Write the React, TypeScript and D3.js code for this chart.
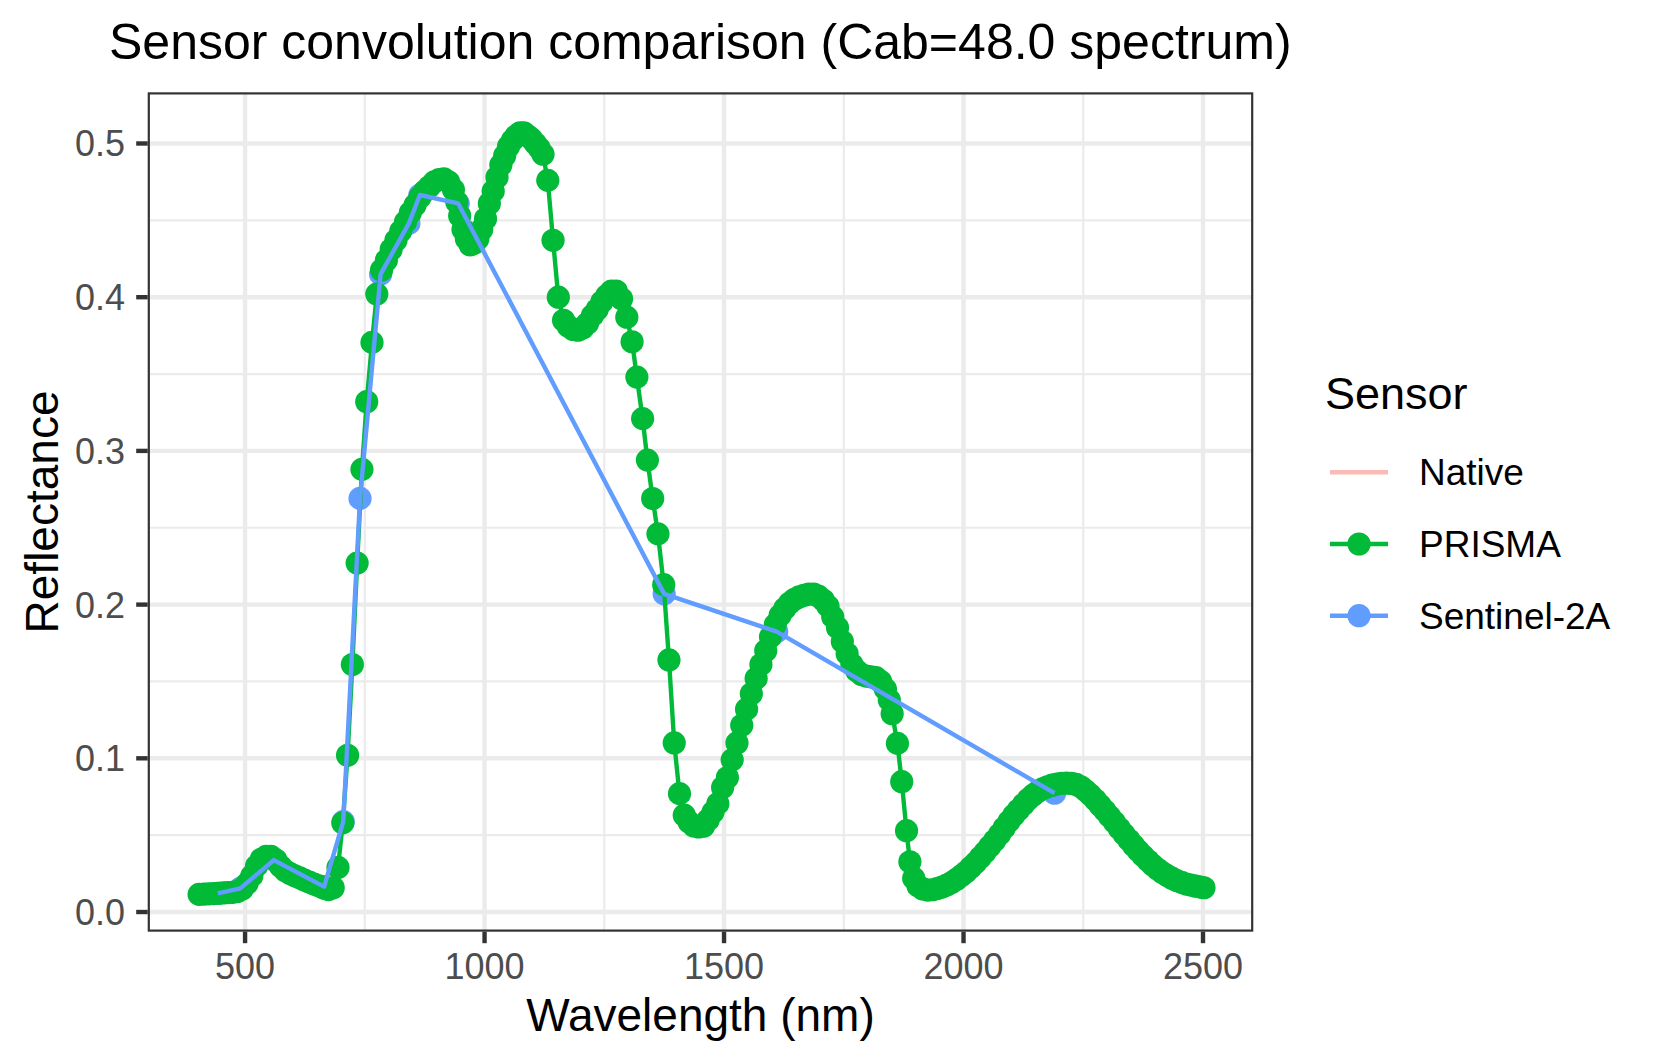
import { useEffect } from "react";
import * as d3 from "d3";

// PRISMA convolved spectrum (wavelength nm, reflectance)
const prismaWl = [
  404, 414, 424, 434, 444, 454, 464, 474, 484, 494, 504, 514, 524, 534, 544, 554, 564, 574, 584, 594,
  604, 614, 624, 634, 644, 654, 664, 674, 684, 694, 704, 714, 724, 734, 744, 754, 765, 775, 785, 795,
  805, 815, 825, 835, 845, 855, 865, 875, 885, 895, 905, 915, 925, 935, 942, 948, 955, 962, 970, 978,
  986, 994, 1002, 1010, 1018, 1026, 1034, 1042, 1050, 1058, 1066, 1074, 1082, 1090, 1098, 1106, 1114, 1122, 1132, 1143,
  1154, 1165, 1175, 1185, 1195, 1205, 1215, 1225, 1235, 1245, 1255, 1265, 1275, 1286, 1297, 1308, 1318, 1330, 1340, 1351,
  1362, 1374, 1385, 1396, 1407, 1417, 1427, 1437, 1447, 1457, 1467, 1477, 1487, 1497, 1507, 1517, 1527, 1537, 1547, 1557,
  1567, 1577, 1587, 1597, 1607, 1617, 1627, 1637, 1647, 1657, 1667, 1677, 1687, 1697, 1707, 1717, 1727, 1737, 1747, 1757,
  1767, 1777, 1787, 1797, 1807, 1817, 1827, 1837, 1845, 1851, 1862, 1871, 1881, 1888, 1896, 1905, 1915, 1925, 1935, 1945,
  1955, 1965, 1975, 1985, 1995, 2005, 2015, 2025, 2035, 2045, 2055, 2065, 2075, 2085, 2095, 2105, 2115, 2125, 2135, 2145,
  2155, 2165, 2175, 2185, 2195, 2205, 2215, 2225, 2235, 2245, 2255, 2265, 2275, 2285, 2295, 2305, 2315, 2325, 2335, 2345,
  2355, 2365, 2375, 2385, 2395, 2405, 2415, 2425, 2435, 2445, 2455, 2465, 2475, 2485, 2495, 2502,
];
const prismaRefl = [
  0.0115, 0.0117, 0.0118, 0.012, 0.0122, 0.0124, 0.0126, 0.0128, 0.0133, 0.015, 0.0185, 0.0235, 0.03, 0.0345, 0.0362, 0.0362, 0.034, 0.0298, 0.0268, 0.025,
  0.0236, 0.0222, 0.0208, 0.0195, 0.0182, 0.017, 0.0156, 0.0146, 0.0158, 0.029, 0.058, 0.102, 0.161, 0.227, 0.288, 0.332, 0.3706, 0.402, 0.4177, 0.424,
  0.431, 0.437, 0.443, 0.449, 0.455, 0.46, 0.465, 0.469, 0.472, 0.475, 0.4765, 0.477, 0.475, 0.47, 0.462, 0.453, 0.444, 0.438, 0.434, 0.435,
  0.438, 0.444, 0.451, 0.461, 0.469, 0.478, 0.486, 0.492, 0.498, 0.502, 0.505, 0.507, 0.507, 0.505, 0.503, 0.5, 0.497, 0.493, 0.476, 0.437,
  0.4, 0.385, 0.381, 0.379, 0.3785, 0.38, 0.383, 0.388, 0.392, 0.397, 0.401, 0.404, 0.404, 0.399, 0.387, 0.371, 0.348, 0.321, 0.294, 0.269,
  0.246, 0.213, 0.164, 0.11, 0.077, 0.063, 0.0585, 0.056, 0.0553, 0.0558, 0.06, 0.065, 0.0705, 0.081, 0.0875, 0.099, 0.11, 0.1215, 0.132, 0.142,
  0.152, 0.161, 0.17, 0.179, 0.187, 0.193, 0.1975, 0.201, 0.2035, 0.205, 0.206, 0.2068, 0.2069, 0.2055, 0.203, 0.199, 0.192, 0.185, 0.176, 0.168,
  0.161, 0.157, 0.1545, 0.1535, 0.153, 0.1525, 0.15, 0.145, 0.138, 0.129, 0.1097, 0.0848, 0.0529, 0.0327, 0.022, 0.017, 0.015, 0.0143, 0.0145, 0.0152,
  0.0162, 0.0175, 0.0192, 0.0212, 0.0235, 0.026, 0.029, 0.032, 0.0355, 0.039, 0.0428, 0.0465, 0.0505, 0.0548, 0.059, 0.063, 0.0665, 0.07, 0.0733, 0.076,
  0.0783, 0.0802, 0.0815, 0.0825, 0.0832, 0.0837, 0.0838, 0.0837, 0.083, 0.0815, 0.079, 0.0762, 0.073, 0.0695, 0.066, 0.0622, 0.0585, 0.0545, 0.0507, 0.047,
  0.0433, 0.0398, 0.0365, 0.0335, 0.0305, 0.028, 0.0257, 0.0237, 0.022, 0.0205, 0.0193, 0.0182, 0.0175, 0.0168, 0.0162, 0.0158,
];

// Sentinel-2A band centres and convolved reflectance
const s2Wl = [443, 490, 560, 665, 705, 740, 783, 842, 865, 945, 1375, 1610, 2190];
const s2Refl = [0.0121, 0.0154, 0.0338, 0.0165, 0.0588, 0.2691, 0.415, 0.448, 0.4665, 0.461, 0.207, 0.1824, 0.0773];

const xTicks = [500, 1000, 1500, 2000, 2500];
const xMinor = [750, 1250, 1750, 2250];
const yTicks = [0, 0.1, 0.2, 0.3, 0.4, 0.5];
const yMinor = [0.05, 0.15, 0.25, 0.35, 0.45];

const sensors = ["Native", "PRISMA", "Sentinel-2A"];
const sensorColors = ["#F8766D", "#00BA38", "#619CFF"];

type Pt = { wl: number; r: number };

const W = 1653;
const H = 1062;
const FONT = "'Liberation Sans', Arial, Helvetica, sans-serif";
const LW = 4.4;
const PR = 11.6;

export default function App() {
  useEffect(() => {
    document.body.style.margin = "0";
    document.body.style.background = "#ffffff";
  }, []);

  const panel = { left: 147.7, right: 1253.3, top: 92.3, bottom: 931.7 };
  const x = d3.scaleLinear().domain([296.7, 2605]).range([panel.left, panel.right]);
  const y = d3.scaleLinear().domain([-0.0128, 0.5333]).range([panel.bottom, panel.top]);

  const prisma: Pt[] = prismaWl.map((wl, i) => ({ wl, r: prismaRefl[i] }));
  const s2: Pt[] = s2Wl.map((wl, i) => ({ wl, r: s2Refl[i] }));

  const line = d3.line<Pt>().x(d => x(d.wl)).y(d => y(d.r));

  const pw = panel.right - panel.left;
  const ph = panel.bottom - panel.top;

  const legendY = (i: number) => 472.3 + i * 71.7;

  return (
    <svg width={W} height={H} viewBox={`0 0 ${W} ${H}`} style={{ display: "block", fontFamily: FONT }}>
      <rect x={0} y={0} width={W} height={H} fill="#ffffff" />
      <defs>
        <clipPath id="panel-clip">
          <rect x={panel.left} y={panel.top} width={pw} height={ph} />
        </clipPath>
      </defs>

      {/* title */}
      <text x={109} y={59.3} fontSize={50} fill="#000000">
        Sensor convolution comparison (Cab=48.0 spectrum)
      </text>

      {/* grid */}
      <g clipPath="url(#panel-clip)">
        {yMinor.map(v => (
          <line key={`ym${v}`} x1={panel.left} x2={panel.right} y1={y(v)} y2={y(v)} stroke="#EBEBEB" strokeWidth={LW / 2} />
        ))}
        {xMinor.map(v => (
          <line key={`xm${v}`} x1={x(v)} x2={x(v)} y1={panel.top} y2={panel.bottom} stroke="#EBEBEB" strokeWidth={LW / 2} />
        ))}
        {yTicks.map(v => (
          <line key={`yg${v}`} x1={panel.left} x2={panel.right} y1={y(v)} y2={y(v)} stroke="#EBEBEB" strokeWidth={LW} />
        ))}
        {xTicks.map(v => (
          <line key={`xg${v}`} x1={x(v)} x2={x(v)} y1={panel.top} y2={panel.bottom} stroke="#EBEBEB" strokeWidth={LW} />
        ))}

        {/* points first, then lines (as in the original layering) */}
        {s2.map((d, i) => (
          <circle key={`sp${i}`} cx={x(d.wl)} cy={y(d.r)} r={PR} fill={sensorColors[2]} />
        ))}
        {prisma.map((d, i) => (
          <circle key={`pp${i}`} cx={x(d.wl)} cy={y(d.r)} r={PR} fill={sensorColors[1]} />
        ))}
        <path d={line(prisma) ?? ""} fill="none" stroke={sensorColors[1]} strokeWidth={LW} strokeLinejoin="round" />
        <path d={line(s2) ?? ""} fill="none" stroke={sensorColors[2]} strokeWidth={LW} strokeLinejoin="round" />
      </g>

      {/* panel border */}
      <rect x={panel.left + 1.1} y={panel.top + 1.1} width={pw - 2.2} height={ph - 2.2} fill="none" stroke="#333333" strokeWidth={2.2} />

      {/* x axis */}
      {xTicks.map(v => (
        <g key={`xt${v}`}>
          <line x1={x(v)} x2={x(v)} y1={panel.bottom} y2={panel.bottom + 11.5} stroke="#333333" strokeWidth={LW} />
          <text x={x(v)} y={979.3} fontSize={36} fill="#4D4D4D" textAnchor="middle">{v}</text>
        </g>
      ))}
      <text x={(panel.left + panel.right) / 2} y={1031} fontSize={46} fill="#000000" textAnchor="middle">
        Wavelength (nm)
      </text>

      {/* y axis */}
      {yTicks.map(v => (
        <g key={`yt${v}`}>
          <line x1={panel.left - 11.5} x2={panel.left} y1={y(v)} y2={y(v)} stroke="#333333" strokeWidth={LW} />
          <text x={125} y={y(v) + 12.9} fontSize={36} fill="#4D4D4D" textAnchor="end">{v.toFixed(1)}</text>
        </g>
      ))}
      <text transform={`translate(58,${(panel.top + panel.bottom) / 2}) rotate(-90)`} fontSize={46} fill="#000000" textAnchor="middle">
        Reflectance
      </text>

      {/* legend */}
      <text x={1325} y={409.3} fontSize={45} fill="#000000">Sensor</text>
      {sensors.map((s, i) => (
        <g key={s}>
          <line x1={1330} x2={1388} y1={legendY(i)} y2={legendY(i)} stroke={sensorColors[i]} strokeWidth={LW} strokeOpacity={i === 0 ? 0.5 : 1} />
          {i > 0 && <circle cx={1359} cy={legendY(i)} r={PR} fill={sensorColors[i]} />}
          <text x={1419} y={legendY(i) + 12.9} fontSize={37} fill="#000000">{s}</text>
        </g>
      ))}
    </svg>
  );
}
